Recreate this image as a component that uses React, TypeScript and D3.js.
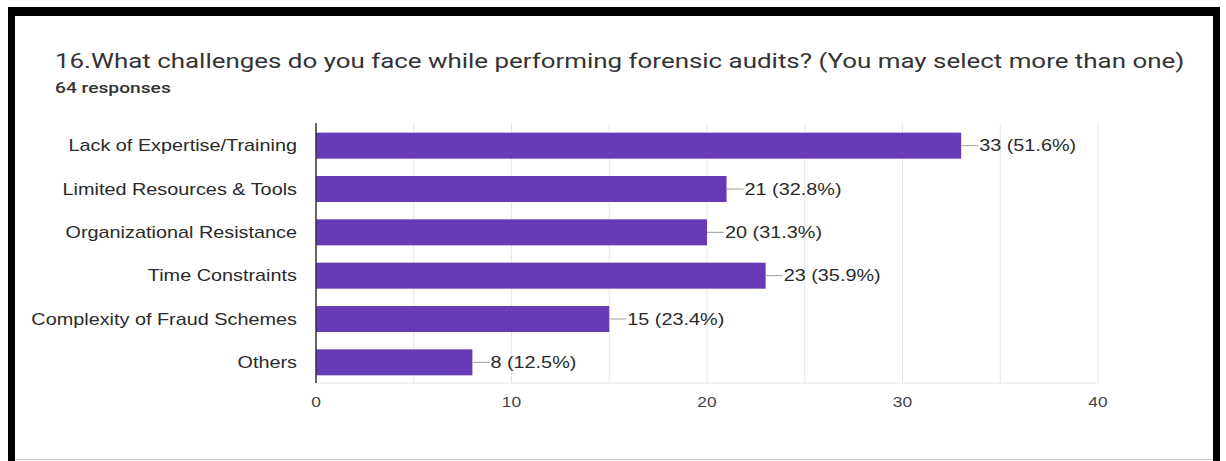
import React, { useEffect, useRef } from "react";
import * as d3 from "d3";

const categories = [
  "Lack of Expertise/Training",
  "Limited Resources & Tools",
  "Organizational Resistance",
  "Time Constraints",
  "Complexity of Fraud Schemes",
  "Others",
];
const counts = [33, 21, 20, 23, 15, 8];
const percents = ["51.6%", "32.8%", "31.3%", "35.9%", "23.4%", "12.5%"];
const xTicks = [0, 10, 20, 30, 40];
const gridValues = [5, 10, 15, 20, 25, 30, 35, 40];
const title =
  "16.What challenges do you face while performing forensic audits? (You may select more than one)";
const subtitle = "64 responses";

const W = 1226;
const H = 461;
const SX = 1.24;

export default function App() {
  const ref = useRef<SVGSVGElement>(null);

  useEffect(() => {
    document.body.style.margin = "0";
    const svg = d3.select(ref.current);
    svg.selectAll("*").remove();

    // frame
    svg.append("rect").attr("x", 0).attr("y", 0).attr("width", W).attr("height", H).attr("fill", "#fff");
    svg.append("rect").attr("x", 8).attr("y", 7).attr("width", 1212).attr("height", H).attr("fill", "#000");
    svg.append("rect").attr("x", 15).attr("y", 16).attr("width", 1198).attr("height", H).attr("fill", "#fff");
    svg.append("line").attr("x1", 15).attr("x2", 1213).attr("y1", 459.5).attr("y2", 459.5).attr("stroke", "#ccc");

    const stretched = (x: number, y: number, txt: string, size: number, family: string, fill: string, anchor = "start", weight = "normal") =>
      svg
        .append("text")
        .attr("transform", `translate(${x},${y}) scale(${SX},1)`)
        .attr("font-family", family)
        .attr("font-size", size)
        .attr("font-weight", weight)
        .attr("fill", fill)
        .attr("text-anchor", anchor)
        .text(txt);

    stretched(55, 68, title, 20.9, "Roboto, Arial, sans-serif", "#333");
    stretched(55, 93, subtitle, 15.5, "Roboto, Arial, sans-serif", "#333", "start", "500");

    const x = d3.scaleLinear().domain([0, 40]).range([316, 1098]);
    const y = d3.scaleBand<string>().domain(categories).range([124, 384]).paddingInner(0.4).paddingOuter(0.2);

    // grid
    svg
      .append("g")
      .selectAll("line")
      .data(gridValues)
      .join("line")
      .attr("x1", (d) => x(d))
      .attr("x2", (d) => x(d))
      .attr("y1", 123)
      .attr("y2", 383)
      .attr("stroke", "#e6e6e6");
    svg.append("line").attr("x1", 316).attr("x2", 1098).attr("y1", 383).attr("y2", 383).attr("stroke", "#e6e6e6");

    // bars
    svg
      .append("g")
      .selectAll("rect")
      .data(counts)
      .join("rect")
      .attr("x", x(0))
      .attr("y", (_, i) => y(categories[i])!)
      .attr("width", (d) => x(d) - x(0))
      .attr("height", y.bandwidth())
      .attr("fill", "#673ab7");

    // leader lines and labels
    counts.forEach((d, i) => {
      const cy = y(categories[i])! + y.bandwidth() / 2;
      svg.append("line").attr("x1", x(d)).attr("x2", x(d) + 17).attr("y1", cy).attr("y2", cy).attr("stroke", "#9e9e9e");
      stretched(x(d) + 18, cy + 5.8, `${d} (${percents[i]})`, 16, "'Liberation Sans', Arial, sans-serif", "#2a2a2a");
      stretched(297, cy + 5.8, categories[i], 16, "'Liberation Sans', Arial, sans-serif", "#2a2a2a", "end");
    });

    // axis line
    svg.append("line").attr("x1", 316).attr("x2", 316).attr("y1", 123).attr("y2", 383).attr("stroke", "#333").attr("stroke-width", 1.5);

    xTicks.forEach((t) => {
      stretched(x(t), 407, String(t), 14, "'Liberation Sans', Arial, sans-serif", "#444", "middle");
    });
  }, []);

  return <svg ref={ref} width={W} height={H} style={{ display: "block" }} />;
}
